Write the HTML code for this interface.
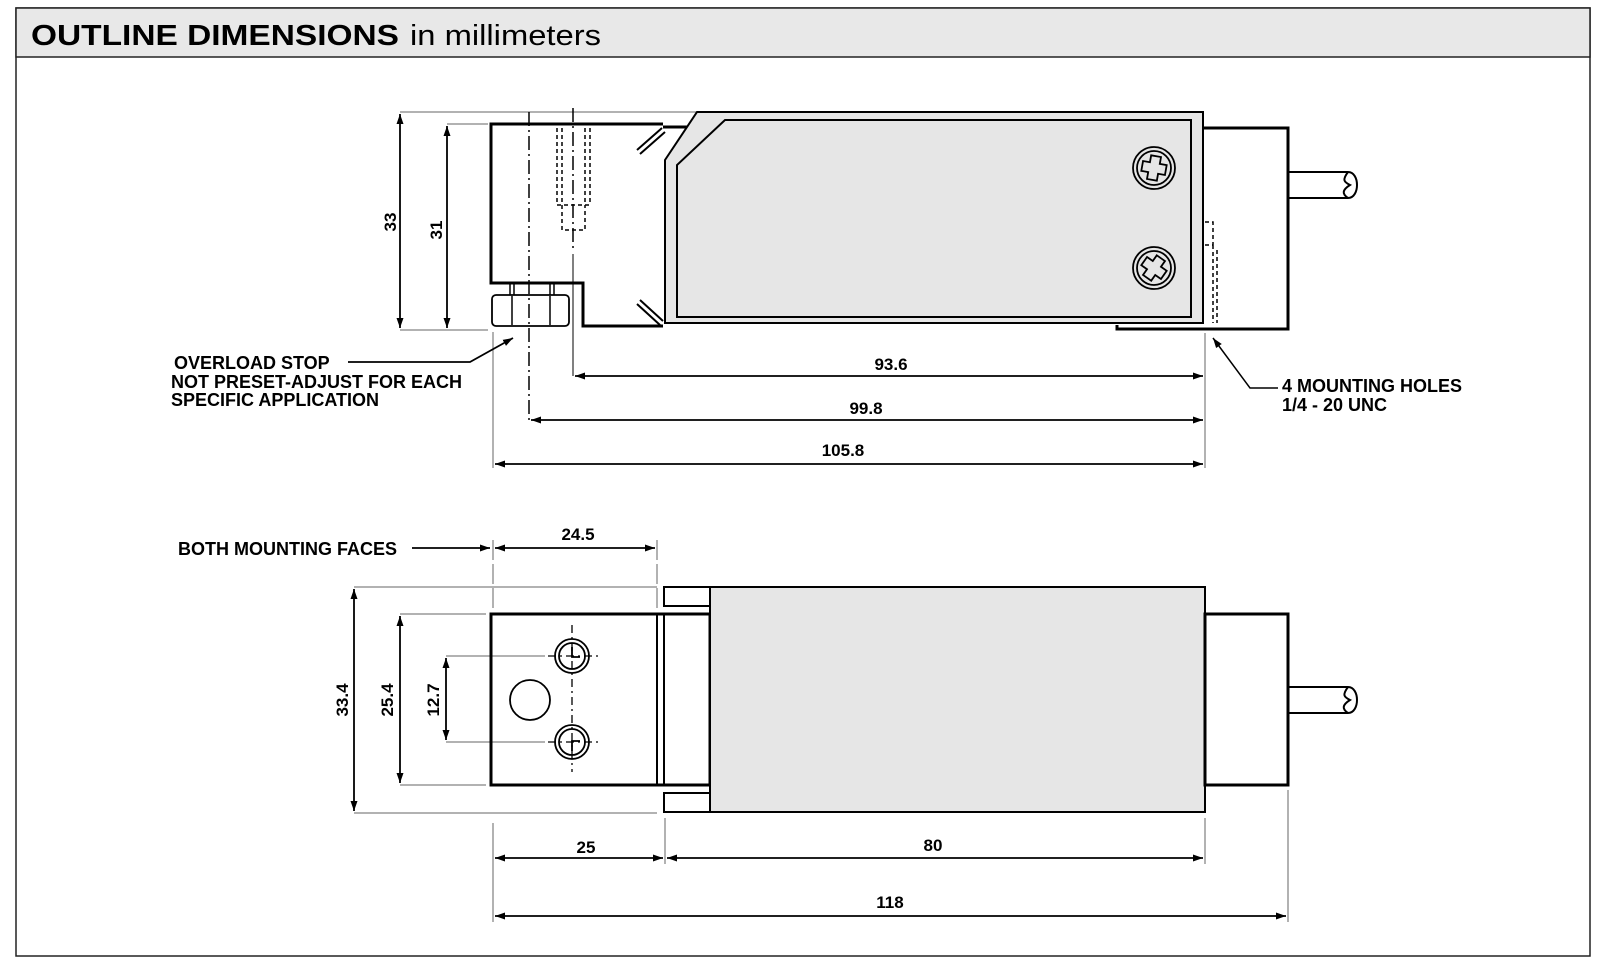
<!DOCTYPE html>
<html><head><meta charset="utf-8"><style>
html,body{margin:0;padding:0;background:#fff;}
svg{display:block;font-family:"Liberation Sans",Arial,sans-serif;}
</style></head><body>
<svg width="1600" height="965" viewBox="0 0 1600 965" xmlns="http://www.w3.org/2000/svg">
<defs>
<marker id="a" viewBox="0 0 10 10" refX="10" refY="5" markerWidth="10" markerHeight="10" markerUnits="userSpaceOnUse" orient="auto-start-reverse"><path d="M0,1.5 L10,5 L0,8.5 Z" fill="#000"/></marker>
</defs>
<rect x="16" y="8" width="1574" height="948" fill="#fff" stroke="#222" stroke-width="1.5"/>
<rect x="16" y="8" width="1574" height="49" fill="#e8e8e8" stroke="#222" stroke-width="1.5"/>
<text x="31" y="45" font-size="29" font-weight="bold" textLength="368" lengthAdjust="spacingAndGlyphs">OUTLINE DIMENSIONS</text>
<text x="410" y="45" font-size="29" textLength="191" lengthAdjust="spacingAndGlyphs">in millimeters</text>

<g stroke="#000" fill="none">
<line x1="400" y1="112" x2="697" y2="112" stroke-width="1" stroke="#666"/>
<line x1="447" y1="124" x2="488" y2="124" stroke-width="1" stroke="#666"/>
<line x1="400" y1="330" x2="488" y2="330" stroke-width="1" stroke="#666"/>
<line x1="400" y1="114" x2="400" y2="328" stroke-width="1.8" marker-start="url(#a)" marker-end="url(#a)"/>
<line x1="447" y1="126" x2="447" y2="328" stroke-width="1.8" marker-start="url(#a)" marker-end="url(#a)"/>
<path d="M663,124 L491,124 L491,283 L583,283 L583,326 L663,326" stroke-width="3"/>
<line x1="663" y1="127" x2="697" y2="127" stroke-width="3"/>
<path d="M637,150 L662,128 M640,154 L665,132" stroke-width="2"/>
<path d="M637,304 L660,325 M640,300 L663,321" stroke-width="2"/>
<path d="M510,283 L510,295 M514,283 L514,295 M550,283 L550,295 M554,283 L554,295" stroke-width="1.5"/>
<rect x="492" y="295" width="77" height="31" rx="4" stroke-width="1.8"/>
<path d="M512,296 L512,325 M550,296 L550,325" stroke-width="1.5"/>
<line x1="529" y1="112" x2="529" y2="420" stroke-width="1.5" stroke-dasharray="14,4,2,4"/>
<line x1="573" y1="108" x2="573" y2="250" stroke-width="1.5" stroke-dasharray="14,4,2,4"/>
<line x1="573" y1="254" x2="573" y2="376" stroke-width="1"/>
<path d="M557,128 L557,205 M562,128 L562,205 M585,128 L585,205 M590,128 L590,205 M562,205 L562,230 L585,230 L585,205 M557,205 L590,205" stroke-width="1.5" stroke-dasharray="4,3"/>
<path d="M697,112 L1203,112 L1203,323 L665,323 L665,160 Z" fill="#e6e6e6" stroke-width="2"/>
<path d="M725,120 L1191,120 L1191,317 L677,317 L677,165 Z" stroke-width="2"/>
<g stroke-width="1.8">
<circle cx="1154" cy="168" r="21"/><circle cx="1154" cy="168" r="17"/>
<path d="M1149,156 h10 v7 h7 v10 h-7 v7 h-10 v-7 h-7 v-10 h7 z" transform="rotate(10 1154 168)"/>
<circle cx="1154" cy="268" r="21"/><circle cx="1154" cy="268" r="17"/>
<path d="M1149,256 h10 v7 h7 v10 h-7 v7 h-10 v-7 h-7 v-10 h7 z" transform="rotate(35 1154 268)"/>
</g>
<path d="M1203,128 L1288,128 L1288,329 L1117,329 L1117,325" stroke-width="3"/>
<path d="M1288,172 L1348,172 M1288,198 L1348,198" stroke-width="2"/>
<path d="M1348,172 C1360,172 1360,198 1348,198 M1348,172 C1342,180 1344,182 1350,185 C1342,190 1342,194 1348,198" stroke-width="2"/>
<path d="M1205,222 L1213,222 L1213,245 L1205,245 M1213,245 L1213,323 M1217,250 L1217,323" stroke-width="1.5" stroke-dasharray="4,3"/>
<line x1="1205" y1="333" x2="1205" y2="468" stroke-width="1" stroke="#666"/>
<line x1="493" y1="332" x2="493" y2="468" stroke-width="1" stroke="#666"/>
<line x1="575" y1="376" x2="1203" y2="376" stroke-width="1.8" marker-start="url(#a)" marker-end="url(#a)"/>
<line x1="531" y1="420" x2="1203" y2="420" stroke-width="1.8" marker-start="url(#a)" marker-end="url(#a)"/>
<line x1="495" y1="464" x2="1203" y2="464" stroke-width="1.8" marker-start="url(#a)" marker-end="url(#a)"/>
<path d="M348,362 L470,362 L513,338" stroke-width="1.8" marker-end="url(#a)"/>
<path d="M1278,388 L1250,388 L1213,338" stroke-width="1.5" marker-end="url(#a)"/>

<line x1="354" y1="587" x2="657" y2="587" stroke-width="1" stroke="#666"/>
<line x1="354" y1="813" x2="657" y2="813" stroke-width="1" stroke="#666"/>
<line x1="400" y1="614" x2="486" y2="614" stroke-width="1" stroke="#666"/>
<line x1="400" y1="785" x2="486" y2="785" stroke-width="1" stroke="#666"/>
<line x1="446" y1="656" x2="545" y2="656" stroke-width="1" stroke="#666"/>
<line x1="446" y1="742" x2="545" y2="742" stroke-width="1" stroke="#666"/>
<line x1="354" y1="589" x2="354" y2="811" stroke-width="1.8" marker-start="url(#a)" marker-end="url(#a)"/>
<line x1="400" y1="616" x2="400" y2="783" stroke-width="1.8" marker-start="url(#a)" marker-end="url(#a)"/>
<line x1="446" y1="658" x2="446" y2="740" stroke-width="1.8" marker-start="url(#a)" marker-end="url(#a)"/>
<line x1="493" y1="540" x2="493" y2="608" stroke-width="1" stroke="#666" stroke-dasharray="20,4"/>
<line x1="657" y1="540" x2="657" y2="608" stroke-width="1" stroke="#666" stroke-dasharray="20,4"/>
<line x1="495" y1="548" x2="655" y2="548" stroke-width="1.8" marker-start="url(#a)" marker-end="url(#a)"/>
<line x1="412" y1="548" x2="490" y2="548" stroke-width="1.8" marker-end="url(#a)"/>
<rect x="491" y="614" width="219" height="171" stroke-width="3"/>
<path d="M657,614 L657,785 M664,614 L664,785" stroke-width="2"/>
<rect x="664" y="587" width="46" height="19" stroke-width="2"/>
<rect x="664" y="793" width="46" height="19" stroke-width="2"/>
<rect x="710" y="587" width="495" height="225" fill="#e6e6e6" stroke-width="2"/>
<rect x="1205" y="614" width="83" height="171" stroke-width="3"/>
<path d="M1288,687 L1348,687 M1288,713 L1348,713" stroke-width="2"/>
<path d="M1348,687 C1360,687 1360,713 1348,713 M1348,687 C1342,695 1344,697 1350,700 C1342,705 1342,709 1348,713" stroke-width="2"/>
<circle cx="530" cy="700" r="20" stroke-width="1.8"/>
<g stroke-width="1.8">
<circle cx="572" cy="656" r="17"/><circle cx="572" cy="656" r="13"/>
<path d="M572,647 L572,657 L580,657"/>
<circle cx="572" cy="742" r="17"/><circle cx="572" cy="742" r="13"/>
<path d="M580,741 L572,741 L572,751"/>
</g>
<line x1="572" y1="625" x2="572" y2="772" stroke-width="1.3" stroke-dasharray="8,4,2,4"/>
<line x1="548" y1="656" x2="598" y2="656" stroke-width="1.3" stroke-dasharray="8,4,2,4"/>
<line x1="548" y1="742" x2="598" y2="742" stroke-width="1.3" stroke-dasharray="8,4,2,4"/>
<line x1="493" y1="823" x2="493" y2="922" stroke-width="1" stroke="#666"/>
<line x1="665" y1="818" x2="665" y2="864" stroke-width="1" stroke="#666"/>
<line x1="1205" y1="818" x2="1205" y2="864" stroke-width="1" stroke="#666"/>
<line x1="1288" y1="790" x2="1288" y2="922" stroke-width="1" stroke="#666"/>
<line x1="495" y1="858" x2="663" y2="858" stroke-width="1.8" marker-start="url(#a)" marker-end="url(#a)"/>
<line x1="667" y1="858" x2="1203" y2="858" stroke-width="1.8" marker-start="url(#a)" marker-end="url(#a)"/>
<line x1="495" y1="916" x2="1286" y2="916" stroke-width="1.8" marker-start="url(#a)" marker-end="url(#a)"/>
</g>

<g font-size="17" font-weight="bold" fill="#000">
<text transform="translate(396,222) rotate(-90)" text-anchor="middle">33</text>
<text transform="translate(442,230) rotate(-90)" text-anchor="middle">31</text>
<text x="891" y="370" text-anchor="middle">93.6</text>
<text x="866" y="414" text-anchor="middle">99.8</text>
<text x="843" y="456" text-anchor="middle">105.8</text>
<text transform="translate(348,700) rotate(-90)" text-anchor="middle">33.4</text>
<text transform="translate(393,700) rotate(-90)" text-anchor="middle">25.4</text>
<text transform="translate(439,700) rotate(-90)" text-anchor="middle">12.7</text>
<text x="578" y="540" text-anchor="middle">24.5</text>
<text x="586" y="853" text-anchor="middle">25</text>
<text x="933" y="851" text-anchor="middle">80</text>
<text x="890" y="908" text-anchor="middle">118</text>
</g>
<g font-size="18" font-weight="bold" fill="#000">
<text x="174" y="369">OVERLOAD STOP</text>
<text x="171" y="388">NOT PRESET-ADJUST  FOR EACH</text>
<text x="171" y="406">SPECIFIC APPLICATION</text>
<text x="1282" y="392">4 MOUNTING HOLES</text>
<text x="1282" y="411">1/4 - 20 UNC</text>
<text x="178" y="555">BOTH MOUNTING FACES</text>
</g>
</svg>
</body></html>
